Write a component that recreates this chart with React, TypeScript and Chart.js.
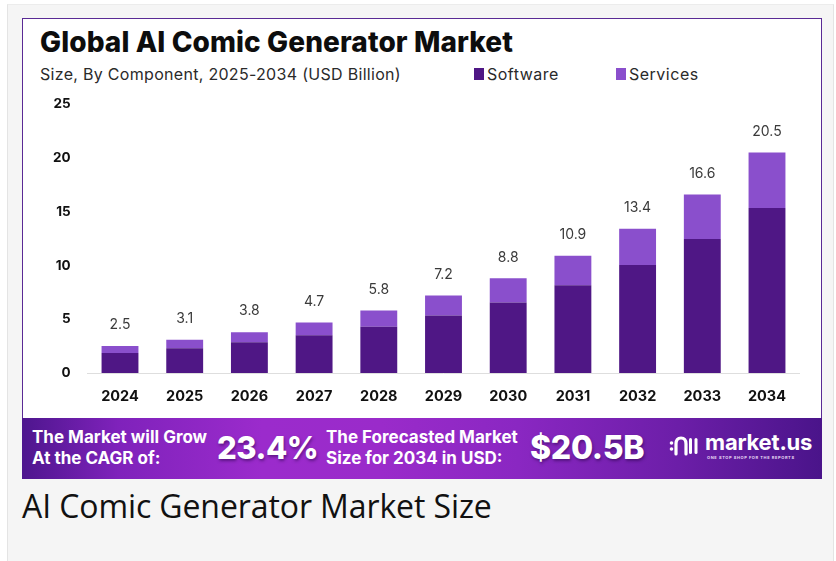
import React, { useEffect, useRef } from "react";
import { Chart, registerables } from "chart.js";

Chart.register(...registerables);

const categories = ["2024", "2025", "2026", "2027", "2028", "2029", "2030", "2031", "2032", "2033", "2034"];
const software = [1.85, 2.3, 2.85, 3.5, 4.3, 5.35, 6.55, 8.15, 10.05, 12.45, 15.35];
const services = [0.65, 0.8, 0.95, 1.2, 1.5, 1.85, 2.25, 2.75, 3.35, 4.15, 5.15];
const totalLabels = ["2.5", "3.1", "3.8", "4.7", "5.8", "7.2", "8.8", "10.9", "13.4", "16.6", "20.5"];
const seriesNames = ["Software", "Services"];
const seriesColors = ["#4f1785", "#8a4fcc"];
const yTicks = [0, 5, 10, 15, 20, 25];

const FONT = "Inter, 'DejaVu Sans', sans-serif";

const totalsPlugin = {
  id: "totals",
  afterDatasetsDraw(chart: any) {
    const ctx = chart.ctx;
    const meta = chart.getDatasetMeta(chart.data.datasets.length - 1);
    ctx.save();
    ctx.fillStyle = "#3a3a3a";
    ctx.font = `400 14px ${FONT}`;
    ctx.textAlign = "center";
    ctx.textBaseline = "middle";
    meta.data.forEach((el: any, i: number) => {
      ctx.fillText(totalLabels[i], el.x, el.y - 21);
    });
    ctx.restore();
  },
};

export default function App() {
  const ref = useRef<HTMLCanvasElement | null>(null);

  useEffect(() => {
    if (!ref.current) return;
    const chart = new Chart(ref.current, {
      type: "bar",
      data: {
        labels: categories,
        datasets: [
          { label: seriesNames[0], data: software, backgroundColor: seriesColors[0], barPercentage: 0.57, categoryPercentage: 1 },
          { label: seriesNames[1], data: services, backgroundColor: seriesColors[1], barPercentage: 0.57, categoryPercentage: 1 },
        ],
      },
      options: {
        responsive: false,
        animation: false,
        devicePixelRatio: 1,
        layout: { padding: { left: 0, right: 22.65, top: 0, bottom: 0 } },
        plugins: {
          legend: { display: false },
          tooltip: { enabled: false },
        },
        scales: {
          x: {
            stacked: true,
            grid: { display: false, drawTicks: false },
            border: { display: true, color: "#dedede", width: 1 },
            ticks: { color: "#111", font: { family: FONT, size: 14.5, weight: "bold" }, padding: 15 },
            afterFit: (s: any) => { s.height = 45; },
          },
          y: {
            stacked: true,
            min: 0,
            max: 25,
            grid: { display: false, drawTicks: false },
            border: { display: false },
            afterBuildTicks: (s: any) => { s.ticks = yTicks.map((v) => ({ value: v })); },
            ticks: { color: "#111", font: { family: FONT, size: 13.5, weight: "bold" }, padding: 17 },
            afterFit: (s: any) => { s.width = 65.65; },
          },
        },
      },
      plugins: [totalsPlugin],
    });
    return () => chart.destroy();
  }, []);

  const abs = (l: number, t: number, extra: any = {}) => ({ position: "absolute" as const, left: l, top: t, ...extra });

  return (
    <div style={{ position: "absolute", left: 0, top: 0, width: 836, height: 561, background: "#ffffff", overflow: "hidden" }}>
      <div style={abs(7, 4, { width: 825, height: 570, background: "#f5f5f5", borderLeft: "1px solid #e4e4e4", borderRight: "1px solid #e4e4e4", borderTop: "1px solid #ececec" })} />
      <div style={abs(22, 18, { width: 798, height: 400, background: "#fff", border: "1px solid #5a2a95", boxSizing: "content-box" })} />
      <div style={abs(40, 25, { fontFamily: FONT, fontWeight: 800, fontSize: 28, color: "#0d0d0d", letterSpacing: 0.1, whiteSpace: "nowrap" })}>
        Global AI Comic Generator Market
      </div>
      <div style={abs(40, 64, { fontFamily: FONT, fontWeight: 400, fontSize: 16, color: "#2a2a2a", whiteSpace: "nowrap", letterSpacing: 0.3 })}>
        Size, By Component, 2025-2034 (USD Billion)
      </div>
      {seriesNames.map((name, i) => (
        <div key={name} style={abs(i === 0 ? 474 : 616, 64, { display: "flex", alignItems: "center", fontFamily: FONT, fontSize: 16, letterSpacing: 0.5, color: "#2a2a2a", whiteSpace: "nowrap" })}>
          <span style={{ display: "inline-block", width: 10, height: 12, background: seriesColors[i], marginRight: 3 }} />
          {name}
        </div>
      ))}
      <canvas ref={ref} width={800} height={339} style={abs(22, 79, { width: 800, height: 339 })} />
      <div
        style={abs(22, 418, {
          width: 800,
          height: 61,
          background: "linear-gradient(90deg, #4e168e 0%, #7f22bb 12%, #9b2bcc 30%, #9a2bca 45%, #8a27c2 62%, #6c1ea8 82%, #4a148a 100%)",
        })}
      />
      <div style={abs(32, 427, { fontFamily: FONT, fontWeight: 700, fontSize: 17, lineHeight: "21px", color: "#fff", whiteSpace: "nowrap", letterSpacing: 0 })}>
        The Market will Grow<br />At the CAGR of:
      </div>
      <div style={abs(217, 429, { fontFamily: FONT, fontWeight: 800, fontSize: 31, lineHeight: "38px", color: "#fff", whiteSpace: "nowrap", letterSpacing: -0.5, textShadow: "1px 2px 3px rgba(40,0,70,0.5)" })}>
        23.4%
      </div>
      <div style={abs(326, 427, { fontFamily: FONT, fontWeight: 700, fontSize: 17, lineHeight: "21px", color: "#fff", whiteSpace: "nowrap", letterSpacing: 0 })}>
        The Forecasted Market<br />Size for 2034 in USD:
      </div>
      <div style={abs(530, 429, { fontFamily: FONT, fontWeight: 800, fontSize: 32, lineHeight: "38px", color: "#fff", whiteSpace: "nowrap", letterSpacing: -0.3, textShadow: "1px 2px 3px rgba(40,0,70,0.5)" })}>
        $20.5B
      </div>
      <svg style={abs(668, 434, { width: 32, height: 24 })} viewBox="0 0 30 24">
        <circle cx="2.5" cy="9" r="1.8" fill="#fff" />
        <circle cx="2.5" cy="15" r="1.8" fill="#fff" />
        <path d="M7 20 L7 10 Q7 4 12 4 Q17 4 17 10 L17 20" stroke="#fff" strokeWidth="3.2" fill="none" strokeLinecap="round" />
        <rect x="20" y="4" width="3" height="16" rx="1.5" fill="#fff" />
        <rect x="25.5" y="4" width="3" height="16" rx="1.5" fill="#fff" />
      </svg>
      <div style={abs(705, 430, { fontFamily: FONT, fontWeight: 700, fontSize: 22, lineHeight: "24px", color: "#fff", whiteSpace: "nowrap", letterSpacing: -0.2 })}>
        market.us
      </div>
      <div style={abs(707, 455, { fontFamily: FONT, fontWeight: 700, fontSize: 4, lineHeight: "5px", color: "#e8d8f5", whiteSpace: "nowrap", letterSpacing: 0.6 })}>
        ONE STOP SHOP FOR THE REPORTS
      </div>
      <div style={abs(22, 486, { fontFamily: "'Open Sans', sans-serif", fontWeight: 400, fontSize: 32, lineHeight: "40px", color: "#111", whiteSpace: "nowrap", letterSpacing: -0.1 })}>
        AI Comic Generator Market Size
      </div>
    </div>
  );
}
